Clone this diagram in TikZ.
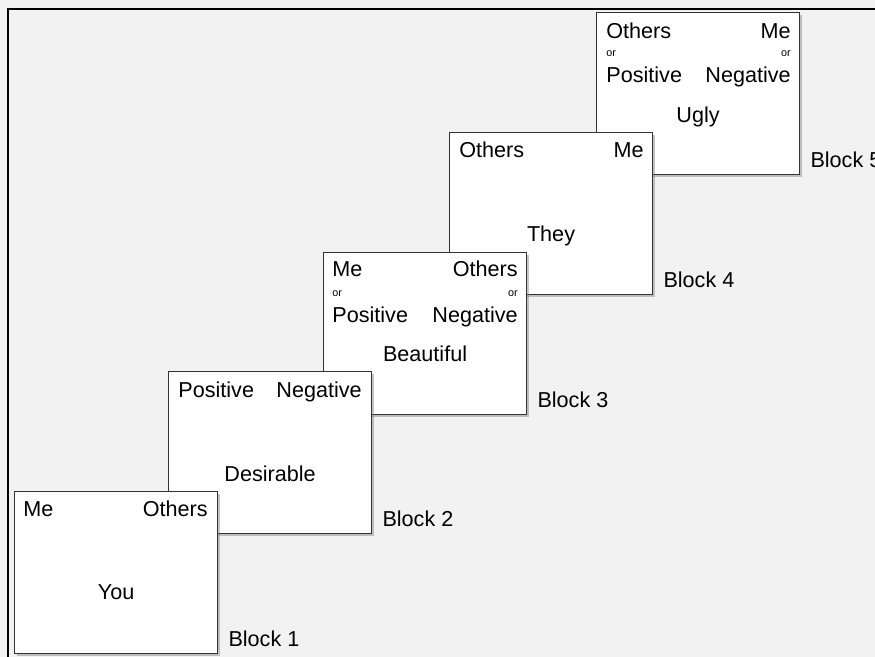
\documentclass[tikz,border=0pt]{standalone}
\usepackage{fontspec}
\setmainfont{Liberation Sans}
\usetikzlibrary{shadows}
\definecolor{bg}{HTML}{F2F2F2}
\definecolor{edge}{HTML}{333333}
\begin{document}
\begin{tikzpicture}[x=0.5pt,y=-0.5pt,
  blockbox/.style={draw=edge, line width=0.55pt, fill=white, minimum width=101.5pt,
    minimum height=81pt, inner sep=0pt, anchor=north west,
    drop shadow={shadow xshift=1pt, shadow yshift=-1pt, opacity=0.45}},
  word/.style={font=\fontsize{10.8}{12}\selectfont, inner sep=0pt},
  tiny/.style={font=\fontsize{5.4}{6}\selectfont, inner sep=0pt},
]
\useasboundingbox (0,0) rectangle (875,657);
\fill[bg] (0,0) rectangle (875,657);
\draw[line width=1pt, line join=miter] (8,660) -- (8,9) -- (880,9);

% Block 5
\node[blockbox] (b5) at (596,12) {};
\node[word, anchor=base west] (b5tl) at ([xshift=5pt,yshift=-13.5pt]b5.north west) {Others};
\node[word, anchor=base east] (b5tr) at ([xshift=-4.5pt,yshift=-13.5pt]b5.north east) {Me};
\node[tiny, anchor=base west] (b5ol) at ([xshift=5pt,yshift=-22.5pt]b5.north west) {or};
\node[tiny, anchor=base east] (b5or) at ([xshift=-4.5pt,yshift=-22.5pt]b5.north east) {or};
\node[word, anchor=base west] (b5bl) at ([xshift=5pt,yshift=-35.5pt]b5.north west) {Positive};
\node[word, anchor=base east] (b5br) at ([xshift=-4.5pt,yshift=-35.5pt]b5.north east) {Negative};
\node[word, anchor=base] (b5c) at ([yshift=-55.5pt]b5.north) {Ugly};
\node[word, anchor=base west] (l5) at ([xshift=5pt,yshift=4pt]b5.south east) {Block 5};

% Block 4
\node[blockbox] (b4) at (449,132) {};
\node[word, anchor=base west] (b4tl) at ([xshift=5pt,yshift=-13pt]b4.north west) {Others};
\node[word, anchor=base east] (b4tr) at ([xshift=-4.5pt,yshift=-13pt]b4.north east) {Me};
\node[word, anchor=base] (b4c) at ([yshift=-55pt]b4.north) {They};
\node[word, anchor=base west] (l4) at ([xshift=5pt,yshift=4pt]b4.south east) {Block 4};

% Block 3
\node[blockbox] (b3) at (323,252) {};
\node[word, anchor=base west] (b3tl) at ([xshift=4.5pt,yshift=-12.5pt]b3.north west) {Me};
\node[word, anchor=base east] (b3tr) at ([xshift=-4.5pt,yshift=-12.5pt]b3.north east) {Others};
\node[tiny, anchor=base west] (b3ol) at ([xshift=4.5pt,yshift=-22.5pt]b3.north west) {or};
\node[tiny, anchor=base east] (b3or) at ([xshift=-4.5pt,yshift=-22.5pt]b3.north east) {or};
\node[word, anchor=base west] (b3bl) at ([xshift=4.5pt,yshift=-35.5pt]b3.north west) {Positive};
\node[word, anchor=base east] (b3br) at ([xshift=-4.5pt,yshift=-35.5pt]b3.north east) {Negative};
\node[word, anchor=base] (b3c) at ([yshift=-55pt]b3.north) {Beautiful};
\node[word, anchor=base west] (l3) at ([xshift=5pt,yshift=4pt]b3.south east) {Block 3};

% Block 2
\node[blockbox] (b2) at (168,371) {};
\node[word, anchor=base west] (b2tl) at ([xshift=5pt,yshift=-13.5pt]b2.north west) {Positive};
\node[word, anchor=base east] (b2tr) at ([xshift=-5pt,yshift=-13.5pt]b2.north east) {Negative};
\node[word, anchor=base] (b2c) at ([yshift=-55.5pt]b2.north) {Desirable};
\node[word, anchor=base west] (l2) at ([xshift=5pt,yshift=4pt]b2.south east) {Block 2};

% Block 1
\node[blockbox] (b1) at (14,491) {};
\node[word, anchor=base west] (b1tl) at ([xshift=4.5pt,yshift=-13pt]b1.north west) {Me};
\node[word, anchor=base east] (b1tr) at ([xshift=-5pt,yshift=-13pt]b1.north east) {Others};
\node[word, anchor=base] (b1c) at ([yshift=-54.5pt]b1.north) {You};
\node[word, anchor=base west] (l1) at ([xshift=5pt,yshift=4pt]b1.south east) {Block 1};
\end{tikzpicture}
\end{document}
